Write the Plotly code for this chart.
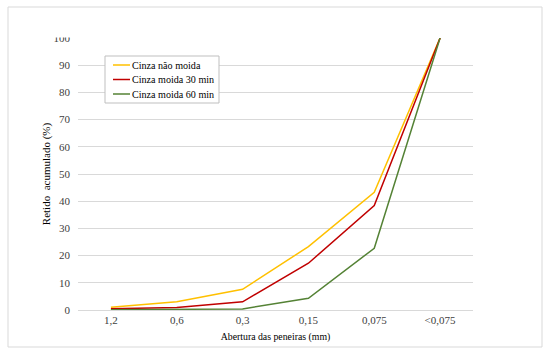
import plotly.graph_objects as go

categories = ["1,2", "0,6", "0,3", "0,15", "0,075", "<0,075"]
nao_moida = [1.0, 3.0, 7.6, 23.3, 43.3, 100]
moida_30 = [0.5, 0.9, 3.0, 17.2, 38.4, 100]
moida_60 = [0.1, 0.2, 0.4, 4.3, 22.7, 100]
y_ticks = [0, 10, 20, 30, 40, 50, 60, 70, 80, 90, 100]
series_names = ["Cinza não moida", "Cinza moida 30 min", "Cinza moida 60 min"]
series_colors = ["#FFC000", "#C00000", "#548235"]

W, H = 552, 353
L, R, T, B = 78, 473, 38, 310
pw, ph = R - L, B - T

def px(x):
    return (x - L) / pw

def py(y):
    return (B - y) / ph

FONT = "Liberation Serif"

fig = go.Figure()
for name, vals, col in zip(series_names, [nao_moida, moida_30, moida_60], series_colors):
    fig.add_trace(go.Scatter(x=categories, y=vals, mode="lines", name=name,
                             line=dict(color=col, width=1.5), showlegend=False))

fig.update_layout(
    width=W, height=H,
    margin=dict(l=L, r=W - R, t=T, b=H - B),
    paper_bgcolor="white", plot_bgcolor="white",
    font=dict(family=FONT, size=11, color="#404040"),
    xaxis=dict(type="category", range=[-0.5, 5.5], showgrid=False,
               showline=True, linecolor="#D9D9D9", linewidth=1,
               ticks="", tickfont=dict(family=FONT, color="#404040", size=11),
               title=dict(text="Abertura das peneiras (mm)", standoff=7,
                          font=dict(family=FONT, color="#000000", size=9.8)),
               fixedrange=True),
    yaxis=dict(range=[0, 100], tickvals=y_ticks, showgrid=True,
               gridcolor="#D9D9D9", gridwidth=1, zeroline=False,
               showline=False, ticks="", ticklabelstandoff=7,
               tickfont=dict(family=FONT, color="#404040", size=11),
               title=dict(text="Retido\u00a0\u00a0acumulado (%)", standoff=0,
                          font=dict(family=FONT, color="#000000", size=11)),
               fixedrange=True),
)

# outer chart border
fig.add_shape(type="rect", xref="paper", yref="paper",
              x0=px(8), x1=px(542), y0=py(347), y1=py(7),
              line=dict(color="#D9D9D9", width=1), fillcolor="rgba(0,0,0,0)",
              layer="below")
# clip top half of the "100" label like the reference
fig.add_shape(type="rect", xref="paper", yref="paper",
              x0=px(50), x1=px(76), y0=py(37.5), y1=py(28),
              line=dict(width=0), fillcolor="white", layer="above")

# custom legend box
fig.add_shape(type="rect", xref="paper", yref="paper",
              x0=px(105), x1=px(219), y0=py(103), y1=py(56),
              line=dict(color="#BFBFBF", width=1), fillcolor="white",
              layer="above")
for i, (name, col) in enumerate(zip(series_names, series_colors)):
    yy = 65 + i * 14.5
    fig.add_shape(type="line", xref="paper", yref="paper",
                  x0=px(113), x1=px(130), y0=py(yy), y1=py(yy),
                  line=dict(color=col, width=1.5), layer="above")
    fig.add_annotation(xref="paper", yref="paper", x=px(129.5), y=py(yy),
                       xanchor="left", yanchor="middle", showarrow=False,
                       text=name, font=dict(family=FONT, size=10.1, color="#000000"))

fig.write_html("out.html")
